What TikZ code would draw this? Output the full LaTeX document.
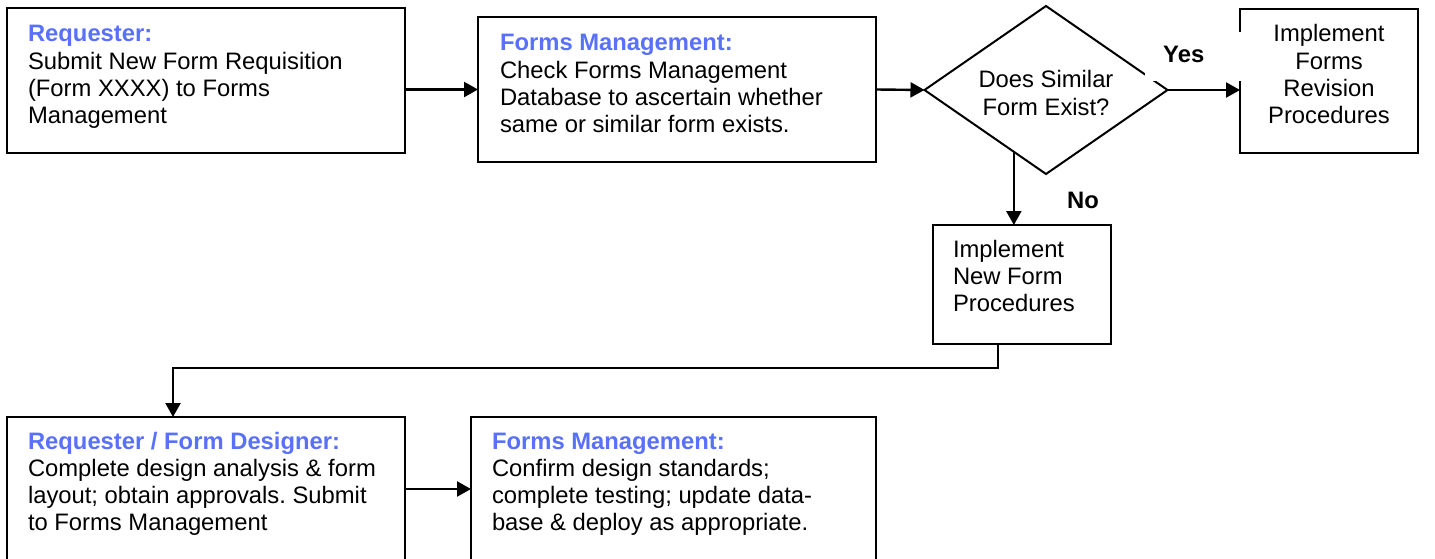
\documentclass[tikz,border=0pt]{standalone}
\usepackage{fontspec}
\setmainfont{Liberation Sans}
\usetikzlibrary{arrows.meta,shapes.geometric,calc}
\definecolor{headblue}{RGB}{88,112,250}
\frenchspacing
\newcommand\bodyfont{\fontsize{23.8pt}{27.3pt}\selectfont}
\newcommand\firstline{\rule{0pt}{20pt}}
\newcommand\role[1]{\textcolor{headblue}{\bfseries #1}}
\tikzset{
  x=1pt, y=1pt,
  box/.style={draw, line width=2.2pt, rectangle, outer sep=0pt, inner sep=0pt, anchor=north west},
  decision/.style={draw, line width=2pt, diamond, outer sep=0pt, inner sep=0pt, aspect=1.45},
  txt/.style={inner sep=0pt, outer sep=0pt, align=left, anchor=north west, font=\bodyfont},
  ctxt/.style={inner sep=0pt, outer sep=0pt, align=center, anchor=north, font=\bodyfont},
  arr/.style={line width=2.4pt, -{Triangle[length=14pt,width=15pt]}},
  lbl/.style={font=\bodyfont\bfseries, inner ysep=0pt, anchor=base west},
}
\begin{document}
\begin{tikzpicture}
\useasboundingbox (0,0) rectangle (1435,-559);
\clip (0,0) rectangle (1435,-559);

% process boxes
\node[box, minimum width=398pt, minimum height=145pt] (req) at (7,-8) {};
\node[txt] (reqT) at (28,-22) {\firstline\role{Requester:}\\Submit New Form Requisition\\(Form XXXX) to Forms\\Management};

\node[box, minimum width=398pt, minimum height=145pt] (chk) at (478,-17) {};
\node[txt] (chkT) at (500,-31) {\firstline\role{Forms Management:}\\Check Forms Management\\Database to ascertain whether\\same or similar form exists.};

\node[decision, minimum width=243pt, minimum height=168pt] (dec) at (1046,-90) {};
\node[ctxt] (decT) at (1046,-68) {\firstline Does Similar\\Form Exist?};

\node[box, minimum width=178pt, minimum height=144pt] (rev) at (1240,-9) {};
\node[ctxt] (revT) at (1329,-22) {\firstline Implement\\Forms\\Revision\\Procedures};

\node[box, minimum width=178pt, minimum height=119pt] (new) at (933,-225) {};
\node[txt] (newT) at (953,-237) {\firstline Implement\\New Form\\Procedures};

\node[box, minimum width=398pt, minimum height=144pt] (dsg) at (7,-417) {};
\node[txt] (dsgT) at (28,-429) {\firstline\role{Requester / Form Designer:}\\Complete design analysis \& form\\layout; obtain approvals. Submit\\to Forms Management};

\node[box, minimum width=405pt, minimum height=144pt] (fin) at (471,-417) {};
\node[txt] (finT) at (492,-429) {\firstline\role{Forms Management:}\\Confirm design standards;\\complete testing; update data-\\base \& deploy as appropriate.};

% connectors
\draw[arr] (req.east |- chk.west) -- (chk.west);
\draw[arr] (chk.east) -- (dec.west);
\draw[arr] (dec.east) -- (dec.east -| rev.west);
\coordinate (noStart) at ($(dec.west)!0.7355!(dec.south)$);
\draw[arr] (noStart) -- (noStart |- new.north);
\draw[arr] ([xshift=-24pt]new.south) -- ++(0,-24) -| ([xshift=-33pt]dsg.north);
\draw[arr] (dsg.east) -- (fin.west);

% branch labels
\node[lbl, fill=white, inner xsep=18pt, text width=64pt, text height=31pt, text depth=18pt] (yes) at (1145,-63) {Yes};
\node[lbl, inner xsep=0pt] (no) at (1067,-208) {No};
\end{tikzpicture}
\end{document}
